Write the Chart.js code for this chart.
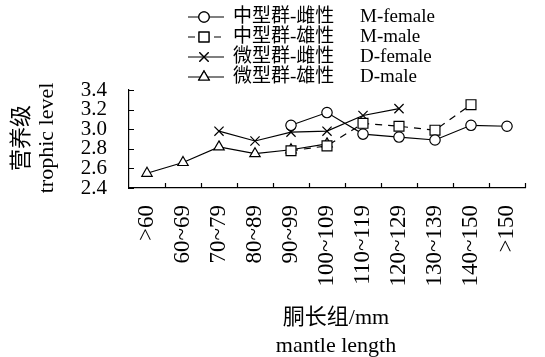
<!DOCTYPE html>
<html>
<head>
<meta charset="utf-8">
<script src="https://cdn.jsdelivr.net/npm/chart.js@4/dist/chart.umd.min.js"></script>
<style>
  body { margin: 0; background: #fff; }
  #wrap { width: 545px; height: 357px; position: relative; }
</style>
</head>
<body>
<div id="wrap"><canvas id="myChart" width="545" height="357"></canvas></div>
<script>
// size classes (mantle length, mm)
var groups = ['>60', '60~69', '70~79', '80~89', '90~99', '100~109', '110~119', '120~129', '130~139', '140~150', '>150'];
var yTicks = [2.4, 2.6, 2.8, 3.0, 3.2, 3.4];

// trophic level per group, null where no sample
var mFemale = [null, null, null, null, 3.04, 3.17, 2.95, 2.92, 2.89, 3.04, 3.03];
var mMale   = [null, null, null, null, 2.78, 2.83, 3.06, 3.03, 2.99, 3.25, null];
var dFemale = [null, null, 2.98, 2.88, 2.97, 2.98, 3.14, 3.21, null, null, null];
var dMale   = [2.55, 2.66, 2.82, 2.75, 2.79, 2.85, null, null, null, null, null];

var nameCn = ['中型群-雌性', '中型群-雄性', '微型群-雌性', '微型群-雄性'];
var nameEn = ['M-female', 'M-male', 'D-female', 'D-male'];

var serif = '"Liberation Serif", "Times New Roman", "Noto Sans CJK SC", serif';
var radius = { circle: 5.2, rect: 7, crossRot: 6.5, triangle: 6 };

function ds(label, data, style, dash) {
  return {
    label: label,
    data: data,
    borderColor: '#000',
    borderWidth: 1.2,
    borderDash: dash || [],
    backgroundColor: '#fff',
    pointStyle: style,
    pointRadius: radius[style],
    pointBorderColor: '#000',
    pointBorderWidth: 1.2,
    pointBackgroundColor: '#fff',
    spanGaps: false,
    tension: 0
  };
}

// legend with chinese + english columns
var legendPlugin = {
  id: 'myLegend',
  afterDraw: function(chart) {
    var ctx = chart.ctx;
    var rows = [17, 37, 57, 77];
    chart.data.datasets.forEach(function(d, i) {
      var y = rows[i];
      ctx.save();
      ctx.strokeStyle = '#000';
      ctx.lineWidth = 1.2;
      ctx.setLineDash(d.borderDash);
      ctx.beginPath();
      ctx.moveTo(188, y);
      ctx.lineTo(224, y);
      ctx.stroke();
      ctx.setLineDash([]);
      ctx.fillStyle = '#fff';
      Chart.helpers.drawPoint(ctx, {pointStyle: d.pointStyle, radius: radius[d.pointStyle], borderWidth: 1.2, rotation: 0}, 204, y);
      ctx.fill();
      ctx.stroke();
      ctx.fillStyle = '#000';
      ctx.textBaseline = 'middle';
      ctx.font = '19px ' + serif;
      ctx.fillText(nameCn[i], 233, y);
      ctx.fillText(nameEn[i], 360, y);
      ctx.restore();
    });
  }
};

// inward ticks + axis titles
var axisPlugin = {
  id: 'axisStuff',
  afterDraw: function(chart) {
    var ctx = chart.ctx;
    var a = chart.chartArea;
    var ys = chart.scales.y;
    ctx.save();
    ctx.strokeStyle = '#000';
    ctx.lineWidth = 1.2;
    ctx.beginPath();
    var step = (a.right - a.left) / groups.length;
    for (var i = 1; i <= groups.length; i++) {
      var x = Math.round(a.left + i * step) + 0.5;
      ctx.moveTo(x, a.bottom);
      ctx.lineTo(x, a.bottom - 5);
    }
    yTicks.forEach(function(v) {
      var y = Math.round(ys.getPixelForValue(v)) + 0.5;
      ctx.moveTo(a.left, y);
      ctx.lineTo(a.left + 5, y);
    });
    ctx.stroke();

    ctx.fillStyle = '#000';
    ctx.textAlign = 'center';
    ctx.textBaseline = 'middle';
    ctx.font = '22px ' + serif;
    ctx.fillText('胴长组/mm', 336, 318);
    ctx.fillText('mantle length', 336, 346);

    ctx.translate(0, 138);
    ctx.rotate(-Math.PI / 2);
    ctx.fillText('营养级', 0, 22);
    ctx.fillText('trophic level', 0, 47);
    ctx.restore();
  }
};

new Chart(document.getElementById('myChart'), {
  type: 'line',
  data: {
    labels: groups,
    datasets: [
      ds(nameEn[0], mFemale, 'circle'),
      ds(nameEn[1], mMale, 'rect', [7, 6]),
      ds(nameEn[2], dFemale, 'crossRot'),
      ds(nameEn[3], dMale, 'triangle')
    ]
  },
  options: {
    responsive: false,
    animation: false,
    layout: { padding: { top: 90, right: 20, left: 0, bottom: 0 } },
    plugins: { legend: { display: false }, tooltip: { enabled: false } },
    scales: {
      x: {
        offset: true,
        grid: { display: false, offset: true },
        border: { display: true, color: '#000', width: 1.2 },
        ticks: {
          color: '#000',
          font: { family: serif, size: 23 },
          minRotation: 90,
          maxRotation: 90,
          padding: 9,
          autoSkip: false
        },
        afterFit: function(s) { s.height = 169; }
      },
      y: {
        min: 2.4,
        max: 3.4,
        grid: { display: false },
        border: { display: true, color: '#000', width: 1.2 },
        afterBuildTicks: function(s) { s.ticks = yTicks.map(function(v) { return {value: v}; }); },
        ticks: {
          color: '#000',
          font: { family: serif, size: 21, lineHeight: 0.9 },
          padding: 14,
          autoSkip: false,
          callback: function(v) { return v.toFixed(1); }
        },
        afterFit: function(s) { s.width = 129; }
      }
    }
  },
  plugins: [legendPlugin, axisPlugin]
});
</script>
</body>
</html>
